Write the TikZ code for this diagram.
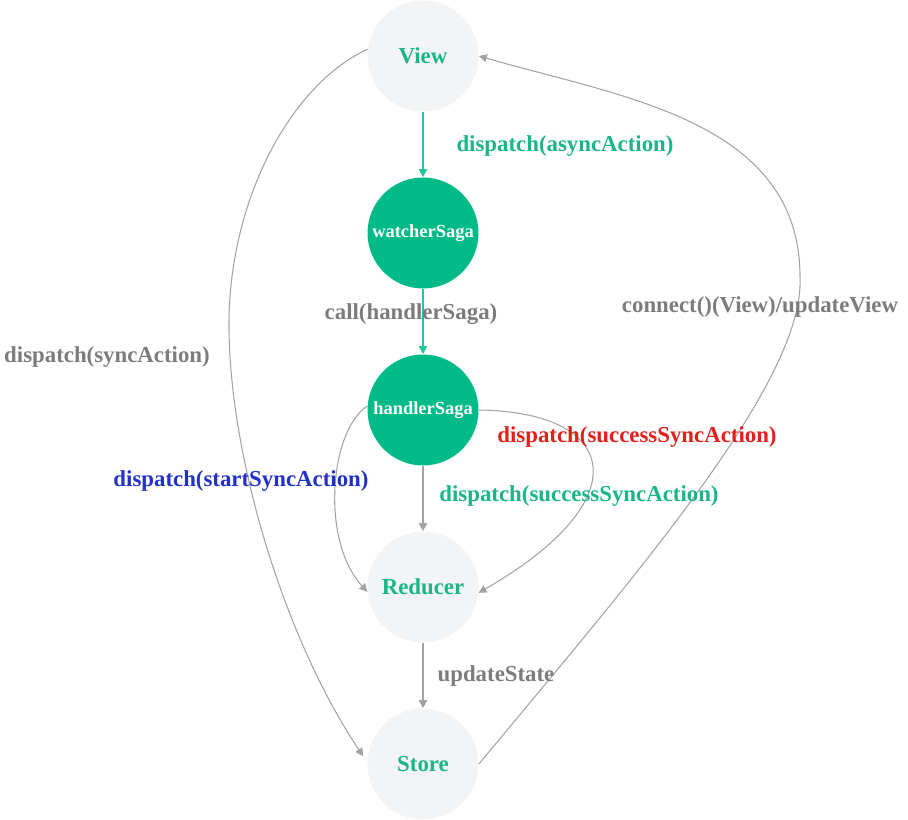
\documentclass[tikz,border=0pt]{standalone}
\usepackage{fontspec}
\setmainfont{Liberation Serif}
\usetikzlibrary{arrows.meta}
\definecolor{sagagreen}{HTML}{00BA87}
\definecolor{txtgreen}{HTML}{1AB688}
\definecolor{nodegray}{HTML}{F3F4F6}
\definecolor{edgegray}{HTML}{A3A3A3}
\definecolor{lblgray}{HTML}{7C7C7C}
\definecolor{lblblue}{HTML}{2232C8}
\definecolor{lblred}{HTML}{E2211D}

\begin{document}
\begin{tikzpicture}[
    x=.02cm,y=-.02cm,
    lt/.style={circle,fill=nodegray,minimum size=2.22cm,inner sep=0pt,text=txtgreen,font=\bfseries\fontsize{13}{15}\selectfont},
    sg/.style={circle,fill=sagagreen,minimum size=2.22cm,inner sep=0pt,text=white,font=\bfseries\fontsize{10.5}{12}\selectfont},
    e/.style={-{Triangle[length=1.6mm,width=1.6mm]},line width=.6pt,edgegray},
    dn/.style={-{Triangle[length=1.6mm,width=1.6mm]},line width=1.1pt,edgegray},
    gdn/.style={dn,sagagreen!85},
    lbl/.style={font=\bfseries\fontsize{13}{15}\selectfont}
  ]
    \useasboundingbox (0,0) rectangle (908,820);
    \node[lt] (View) at (423,56) {View};
    \node[sg] (watcherSaga) at (423,233) {watcherSaga};
    \node[sg] (handlerSaga) at (423,410) {handlerSaga};
    \node[lt] (Reducer) at (423,587) {Reducer};
    \node[lt] (Store) at (423,764) {Store};
    \foreach \s/\t in {View/watcherSaga,watcherSaga/handlerSaga} {\draw[gdn] (\s)--(\t);}
    \foreach \s/\t in {handlerSaga/Reducer,Reducer/Store} {\draw[dn] (\s)--(\t);}
    \draw[e,shorten >=.14cm] (View.173) .. controls (290,85) and (230,200) .. (229,321)
      .. controls (228,455) and (285,640) .. (Store.178);
    \draw[e] (Store.east) .. controls (640,570) and (805,380) .. (800,277)
      .. controls (800,120) and (620,97) .. (View.east);
    \draw[e] (handlerSaga.176) .. controls (330,430) and (320,540) .. (Reducer.185);
    \draw[e] (handlerSaga.east) .. controls (620,412) and (640,500) .. (Reducer.354);
    \node[lbl,text=txtgreen] (lAsync) at (565,146) {dispatch(asyncAction)};
    \node[lbl,text=lblgray] (lCall) at (411,314) {call(handlerSaga)};
    \node[lbl,text=lblgray] (lSync) at (107,357) {dispatch(syncAction)};
    \node[lbl,text=lblgray] (lConnect) at (760,307) {connect()(View)/updateView};
    \node[lbl,text=lblred] (lSuccessRed) at (637,437) {dispatch(successSyncAction)};
    \node[lbl,text=lblblue] (lStart) at (241,481) {dispatch(startSyncAction)};
    \node[lbl,text=txtgreen] (lSuccess) at (579,496) {dispatch(successSyncAction)};
    \node[lbl,text=lblgray] (lUpdate) at (496,676) {updateState};
  \end{tikzpicture}
\end{document}
